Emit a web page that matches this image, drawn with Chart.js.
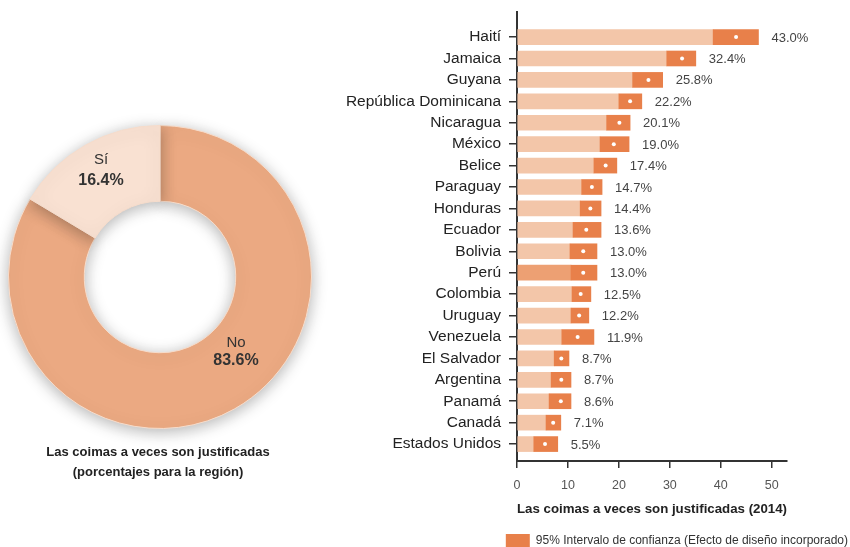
<!DOCTYPE html>
<html>
<head>
<meta charset="utf-8">
<script src="https://cdn.jsdelivr.net/npm/chart.js@4.4.1/dist/chart.umd.min.js"></script>
<style>
  html, body { margin: 0; padding: 0; background: #fff; }
  #wrap { position: relative; width: 850px; height: 547px; overflow: hidden; }
  #donutBox { position: absolute; left: 0; top: 0; width: 330px; height: 547px; }
  #barBox { position: absolute; left: 330px; top: 0; width: 520px; height: 557px; }
  .cap { position: absolute; left: 8px; width: 300px; text-align: center; font-family: "Liberation Sans", Arial, sans-serif; font-weight: bold; font-size: 13px; line-height: 16px; color: #222; }
</style>
</head>
<body>
<div id="wrap">
  <div id="donutBox"><canvas id="donut" width="330" height="547"></canvas></div>
  <div id="barBox"><canvas id="bars" width="520" height="557"></canvas></div>
  <div class="cap" style="top:444px;">Las coimas a veces son justificadas</div>
  <div class="cap" style="top:464px;">(porcentajes para la región)</div>
</div>
<script>
// ---- Data ----
const donutLabels = ["No", "Sí"];
const donutValues = [83.6, 16.4];

const countries = ["Haití", "Jamaica", "Guyana", "República Dominicana", "Nicaragua", "México", "Belice",
  "Paraguay", "Honduras", "Ecuador", "Bolivia", "Perú", "Colombia", "Uruguay", "Venezuela",
  "El Salvador", "Argentina", "Panamá", "Canadá", "Estados Unidos"];
const values = [43.0, 32.4, 25.8, 22.2, 20.1, 19.0, 17.4, 14.7, 14.4, 13.6, 13.0, 13.0, 12.5, 12.2, 11.9,
  8.7, 8.7, 8.6, 7.1, 5.5];
const ciLow = [38.5, 29.4, 22.7, 20.0, 17.6, 16.3, 15.1, 12.7, 12.4, 11.0, 10.4, 10.6, 10.8, 10.6, 8.8,
  7.3, 6.7, 6.3, 5.7, 3.3];
const ciHigh = [47.4, 35.1, 28.6, 24.5, 22.2, 22.0, 19.6, 16.7, 16.5, 16.5, 15.7, 15.7, 14.5, 14.1, 15.1,
  10.2, 10.6, 10.6, 8.6, 8.0];
const xTicks = [0, 10, 20, 30, 40, 50];
const highlight = "Perú";
const legendText = "95% Intervalo de confianza (Efecto de diseño incorporado)";
const xTitle = "Las coimas a veces son justificadas (2014)";

const FONT = '"Liberation Sans", Arial, sans-serif';

// ---- Donut ----
const donutLabelPlugin = {
  id: 'donutLabels',
  afterDatasetsDraw(chart) {
    const ctx = chart.ctx;
    ctx.save();
    ctx.fillStyle = '#333';
    ctx.textAlign = 'center';
    ctx.textBaseline = 'middle';
    const pos = [[236, 343, 361], [101, 160, 181]];
    donutLabels.forEach((lab, i) => {
      const [x, y1, y2] = pos[i];
      ctx.font = '15px ' + FONT;
      ctx.fillText(lab, x, y1);
      ctx.font = 'bold 16px ' + FONT;
      ctx.fillText(donutValues[i].toFixed(1) + '%', x, y2);
    });
    ctx.restore();
  }
};
const shadowPlugin = {
  id: 'shadow',
  beforeDatasetsDraw(chart) {
    const ctx = chart.ctx;
    ctx.save();
    ctx.shadowColor = 'rgba(0,0,0,0.3)';
    ctx.shadowBlur = 16;
    ctx.shadowOffsetX = 0;
    ctx.shadowOffsetY = 3;
  },
  afterDatasetsDraw(chart) { chart.ctx.restore(); }
};

new Chart(document.getElementById('donut'), {
  type: 'doughnut',
  data: {
    labels: donutLabels,
    datasets: [{
      data: donutValues,
      backgroundColor: ['#eba982', '#f9e1d2'],
      borderColor: '#f6dccb',
      borderWidth: 1
    }]
  },
  options: {
    responsive: false,
    animation: false,
    cutout: '50%',
    layout: { padding: { left: 8, right: 18, top: 125, bottom: 118 } },
    plugins: { legend: { display: false }, tooltip: { enabled: false } }
  },
  plugins: [shadowPlugin, donutLabelPlugin]
});

// ---- Bars ----
const valueLabelPlugin = {
  id: 'valueLabels',
  afterDatasetsDraw(chart) {
    const ctx = chart.ctx;
    const xs = chart.scales.x, ys = chart.scales.y;
    ctx.save();
    ctx.fillStyle = '#444';
    ctx.font = '13px ' + FONT;
    ctx.textAlign = 'left';
    ctx.textBaseline = 'middle';
    values.forEach((v, i) => {
      ctx.fillText(v.toFixed(1) + '%', xs.getPixelForValue(ciHigh[i]) + 13, ys.getPixelForValue(i) + 1);
    });
    ctx.restore();
  }
};

const lightColors = countries.map(c => c === highlight ? '#eda073' : '#f3c6a9');

new Chart(document.getElementById('bars'), {
  type: 'bar',
  data: {
    datasets: [
      {
        type: 'line',
        label: 'punto',
        data: values.map((v, i) => ({ x: v, y: i })),
        showLine: false,
        pointRadius: 2,
        pointBorderWidth: 0,
        pointBackgroundColor: '#ffffff',
        pointBorderColor: '#ffffff',
        order: 0
      },
      {
        label: legendText,
        data: ciLow.map((lo, i) => ({ x: [lo, ciHigh[i]], y: i })),
        backgroundColor: '#e8804a',
        barThickness: 15,
        grouped: false,
        order: 1
      },
      {
        label: 'base',
        data: ciLow.map((lo, i) => ({ x: lo, y: i })),
        backgroundColor: lightColors,
        barThickness: 15,
        grouped: false,
        order: 2
      }
    ]
  },
  options: {
    indexAxis: 'y',
    responsive: false,
    animation: false,
    layout: { padding: { left: 0, right: 2, top: 12, bottom: 0 } },
    scales: {
      y: {
        type: 'linear',
        reverse: true,
        offset: false,
        min: -1.17,
        max: 19.79,
        afterBuildTicks: s => { s.ticks = countries.map((c, i) => ({ value: i })); },
        afterFit: s => { s.width = 187; s.paddingTop = 0; s.paddingBottom = 0; },
        ticks: {
          autoSkip: false,
          callback: v => countries[v],
          color: '#222',
          font: { family: FONT, size: 15.5 },
          padding: 8
        },
        grid: { offset: false, drawOnChartArea: false, drawTicks: true, tickLength: 8, color: '#333', lineWidth: 1.5 },
        border: { display: true, color: '#333', width: 2 }
      },
      yPad: {
        type: 'linear',
        position: 'right',
        display: true,
        afterFit: s => { s.width = 61; s.paddingTop = 0; s.paddingBottom = 0; },
        ticks: { display: false },
        grid: { display: false, drawTicks: false },
        border: { display: false }
      },
      x: {
        type: 'linear',
        min: 0,
        max: 53,
        afterBuildTicks: s => { s.ticks = xTicks.map(v => ({ value: v })); },
        afterFit: s => { s.height = 73; },
        ticks: {
          color: '#555',
          font: { family: FONT, size: 12.5 },
          padding: 10
        },
        grid: { drawOnChartArea: false, drawTicks: true, tickLength: 7, color: '#333', lineWidth: 1.5 },
        border: { display: true, color: '#333', width: 2 },
        title: {
          display: true,
          text: xTitle,
          color: '#222',
          font: { family: FONT, size: 13.4, weight: 'bold' },
          padding: { top: 4, bottom: 17 }
        }
      }
    },
    plugins: {
      tooltip: { enabled: false },
      legend: {
        display: true,
        position: 'bottom',
        align: 'end',
        labels: {
          filter: item => item.datasetIndex === 1,
          boxWidth: 24,
          boxHeight: 13,
          color: '#333',
          font: { family: FONT, size: 12 },
          padding: 0
        }
      }
    }
  },
  plugins: [valueLabelPlugin]
});
</script>
</body>
</html>
